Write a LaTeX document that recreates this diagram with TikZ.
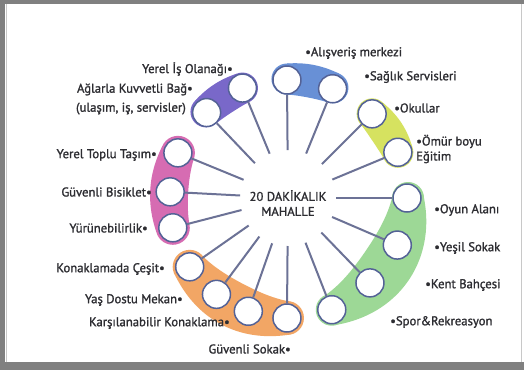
\documentclass[tikz,border=0pt]{standalone}
\usepackage{fontspec}
\setmainfont{PT Sans}
\newfontfamily\labfont[FakeBold=1.4]{PT Sans}
\usetikzlibrary{calc}
\definecolor{framegray}{RGB}{128,128,128}
\definecolor{framelight}{RGB}{200,200,200}
\definecolor{txt}{RGB}{45,45,50}
\definecolor{circedge}{RGB}{84,98,150}
\definecolor{spokecol}{RGB}{108,114,150}
\definecolor{bpurple}{RGB}{121,104,201}
\definecolor{bblue}{RGB}{104,144,214}
\definecolor{byellow}{RGB}{214,226,96}
\definecolor{bgreen}{RGB}{157,216,150}
\definecolor{borange}{RGB}{242,166,101}
\definecolor{bpink}{RGB}{214,108,178}
\tikzset{
  circ/.style={circle, draw=circedge, fill=white, line width=1.5pt, minimum size=28pt, inner sep=0pt},
  spoke/.style={draw=spokecol, line width=2pt},
  lab/.style={font=\labfont\fontsize{12.7}{15}\selectfont, text=txt, inner sep=0pt},
}
\begin{document}
\begin{tikzpicture}[x=1pt,y=-1pt]
\useasboundingbox (0,0) rectangle (524,370);
\fill[framegray] (0,0) rectangle (524,370);
\fill[white] (5,4) rectangle (524,362);
\draw[framelight, line width=1pt] (521,4) -- (521,362);
\draw[framelight, line width=1pt] (6,4) -- (6,362);
\coordinate (ctr) at (288,198);

\begin{scope}[x=1pt, y=1pt, shift={(ctr)}]
  % bands: start angle, end angle, radius, half width, bulge, colour
  \foreach \a/\b/\r/\h/\g/\col in {
      112.5/133.6/119/15.5/1/bpurple,
      67.8/90.5/119/15.5/1/bblue,
      22.6/45/119/15.5/1.5/byellow,
      -68.6/0/120/16/10/bgreen,
      215/269.5/120/17/6/borange,
      157.7/194.5/119/17/2/bpink} {
    \fill[\col] plot[domain=\a:\b, samples=40] (\x:{\r+\h+\g*sin(180*(\x-\a)/(\b-\a))})
      -- plot[domain=\b:\a, samples=40] (\x:{\r-\h-\g*sin(180*(\x-\a)/(\b-\a))}) -- cycle;
    \fill[\col] (\a:\r) circle[radius=\h];
    \fill[\col] (\b:\r) circle[radius=\h];
  }
  % circles
  \foreach \n/\ang/\r in {1/0/119, 2/22.6/119, 3/45/119, 4/67.8/118, 5/90.5/118,
      6/112.5/119, 7/133.6/118, 8/157.7/119, 9/177/118, 10/194.5/119,
      11/215/120, 12/233.4/120, 13/250.7/120, 14/269.5/120, 15/291.4/120,
      16/314/118, 17/336.7/119} {
    \node[circ] (c\n) at (\ang:\r) {};
  }
\end{scope}

\foreach \n in {1,...,17} {
  \coordinate (s\n) at ($(ctr)!48pt!(c\n)$);
  \draw[spoke] (s\n) -- (c\n);
}

\node[lab, align=center] (mid) at (288,203) {20 DAKİKALIK\\MAHALLE};

% left labels
\node[lab, anchor=east] (l6) at (233,69) {Yerel İş Olanağı•};
\node[lab, anchor=east, align=right] (l7) at (193,99) {Ağlarla Kuvvetli Bağ•\\[4pt](ulaşım, iş, servisler)\hspace*{7pt}};
\node[lab, anchor=east] (l8) at (157,155) {Yerel Toplu Taşım•};
\node[lab, anchor=east] (l9) at (152,192) {Güvenli Bisiklet•};
\node[lab, anchor=east] (l10) at (148,228) {Yürünebilirlik•};
\node[lab, anchor=east] (l11) at (165,269) {Konaklamada Çeşit•};
\node[lab, anchor=east] (l12) at (183,300) {Yaş Dostu Mekan•};
\node[lab, anchor=east] (l13) at (230,323) {Karşılanabilir Konaklama•};
\node[lab, anchor=east] (l14) at (291,349) {Güvenli Sokak•};
% right labels
\node[lab, anchor=west] (l5) at (305,53) {•Alışveriş merkezi};
\node[lab, anchor=west] (l4) at (364,77) {•Sağlık Servisleri};
\node[lab, anchor=west] (l3) at (394,108) {•Okullar};
\node[lab, anchor=west, align=left] (l2) at (416,149) {•Ömür boyu\\Eğitim};
\node[lab, anchor=west] (l1) at (434,210) {•Oyun Alanı};
\node[lab, anchor=west] (l17) at (434,248) {•Yeşil Sokak};
\node[lab, anchor=west] (l16) at (425,285) {•Kent Bahçesi};
\node[lab, anchor=west] (l15) at (390,322) {•Spor\&Rekreasyon};
\end{tikzpicture}
\end{document}
